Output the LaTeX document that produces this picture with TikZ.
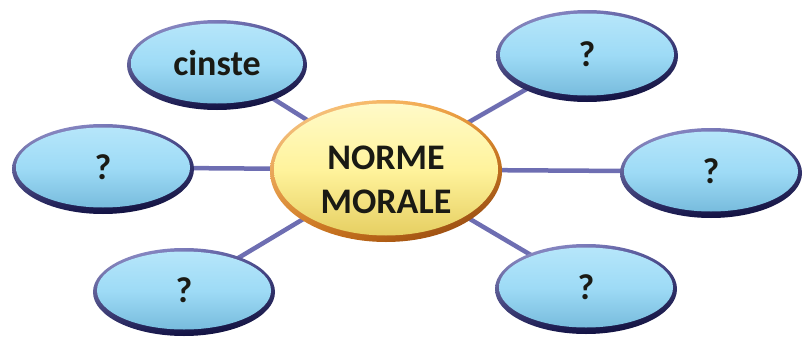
\documentclass[tikz,border=0pt]{standalone}
\usepackage{fontspec}
\setmainfont{Carlito}
\usetikzlibrary{shapes.geometric,backgrounds,shadings}
\definecolor{bubtop}{HTML}{B6E6FA}
\definecolor{bubmid}{HTML}{9EDBF6}
\definecolor{bubbot}{HTML}{78BCDD}
\definecolor{hubtop}{HTML}{FFFAC8}
\definecolor{hubmid}{HTML}{FFF39C}
\definecolor{hubbot}{HTML}{E6CF62}
\definecolor{linkc}{HTML}{6E6EB2}
\definecolor{txt}{HTML}{1A1A14}
\definecolor{brUL}{RGB}{160,160,215}
\definecolor{brUR}{RGB}{85,85,155}
\definecolor{brLL}{RGB}{28,28,85}
\definecolor{brLR}{RGB}{10,10,52}
\definecolor{orUL}{RGB}{252,210,150}
\definecolor{orUR}{RGB}{240,155,50}
\definecolor{orLL}{RGB}{215,125,30}
\definecolor{orLR}{RGB}{135,60,10}
\tikzset{
  bubble/.style={ellipse, inner sep=0pt, top color=bubtop, bottom color=bubbot, middle color=bubmid,
    font=\fontsize{36}{44}\selectfont\bfseries, text=txt, align=center},
  hub/.style={ellipse, inner sep=0pt, top color=hubtop, bottom color=hubbot, middle color=hubmid,
    font=\fontsize{36}{44}\selectfont\bfseries, text=txt, align=center},
  bluerim/.style={upper left=brUL, upper right=brUR, lower left=brLL, lower right=brLR},
  orangerim/.style={upper left=orUL, upper right=orUR, lower left=orLL, lower right=orLR},
  link/.style={draw=linkc, line width=4.5pt}
}
% name, x, y (px from top-left), rx, ry, node style, rim style, text
\newcommand\mybub[8]{%
  \shade[#7] (#2pt,-#3pt) ellipse [x radius=#4pt, y radius=#5pt];
  \node[#6, minimum width=2*#4pt-8pt, minimum height=2*#5pt-10pt] (#1) at (#2pt,-#3pt+1.5pt) {#8};
}
\begin{document}
\begin{tikzpicture}[x=1pt,y=1pt]
\useasboundingbox (0,0) rectangle (811,-340);
\mybub{hubn}{386}{171}{116}{71}{hub}{orangerim}{\raisebox{-19pt}[0pt][0pt]{\begin{tabular}[c]{@{}c@{}}NORME\\MORALE\end{tabular}}}
\mybub{cinste}{217}{65}{90}{45}{bubble}{bluerim}{cinste}
\mybub{tr}{587}{56}{91}{46}{bubble}{bluerim}{?}
\mybub{le}{103}{169}{91}{45}{bubble}{bluerim}{?}
\mybub{ri}{711}{173}{91}{45}{bubble}{bluerim}{?}
\mybub{bl}{184}{292}{91}{44}{bubble}{bluerim}{?}
\mybub{br}{586}{289}{91}{45}{bubble}{bluerim}{?}
\begin{pgfonlayer}{background}
\foreach \t in {cinste,tr,le,ri,bl,br}
  \draw[link] (hubn.center) -- (\t.center);
\end{pgfonlayer}
\end{tikzpicture}
\end{document}
